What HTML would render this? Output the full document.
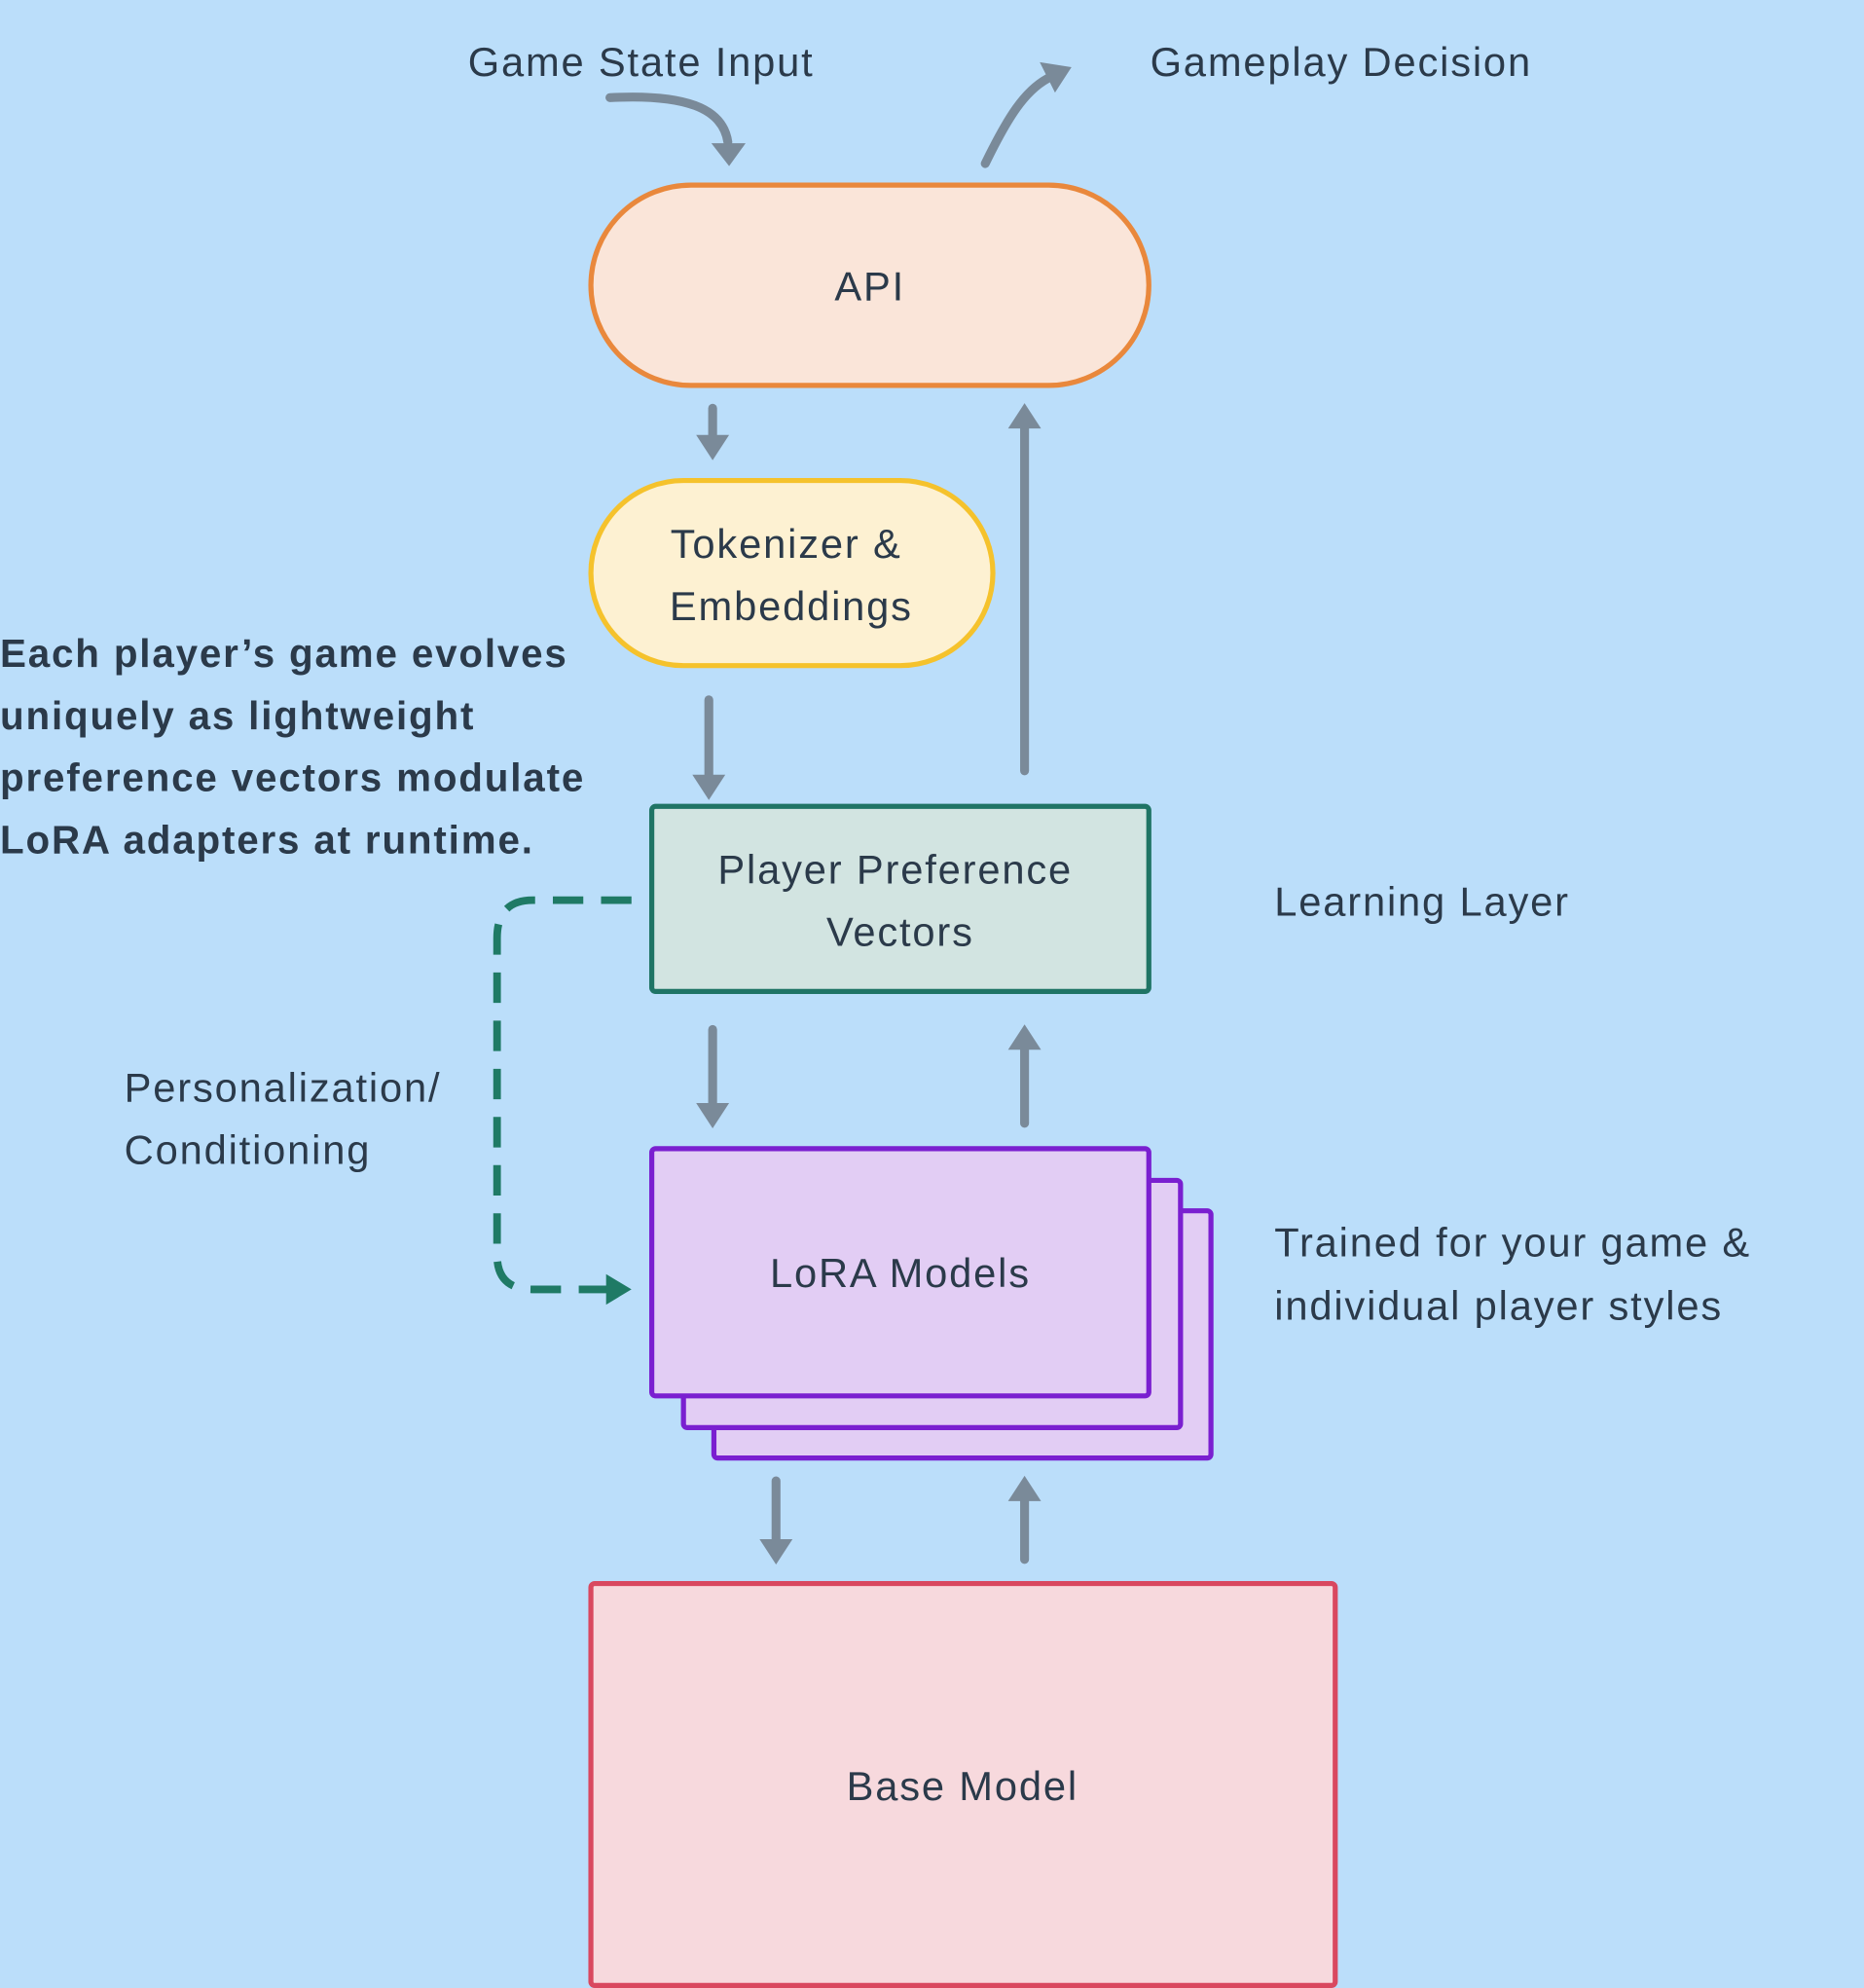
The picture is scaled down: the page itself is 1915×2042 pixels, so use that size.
<!DOCTYPE html>
<html><head><meta charset="utf-8"><style>
html,body{margin:0;padding:0;background:#bbdefa;}
svg{display:block;}
text{font-family:"Liberation Sans","DejaVu Sans",sans-serif;fill:#2b3a4a;letter-spacing:1.4px;}
</style></head><body>
<svg width="1915" height="2042" viewBox="0 0 1470 1568" preserveAspectRatio="none" xmlns="http://www.w3.org/2000/svg">
<rect width="1470" height="1568" fill="#bbdefa"/>
<g stroke="#7a8a99" stroke-width="7" fill="none" stroke-linecap="round">
<path d="M481,77 C540,74 570,85 574,112"/>
<path d="M777,129 C795,92 808,72 826,62"/>
<path d="M562,322 L562,346"/>
<path d="M559,552 L559,614"/>
<path d="M808,608 L808,336"/>
<path d="M562,812 L562,872"/>
<path d="M808,886 L808,826"/>
<path d="M612,1168 L612,1216"/>
<path d="M808,1230 L808,1182"/>
</g>
<g fill="#7a8a99">
<polygon points="561,113 588,113 575,131"/>
<polygon points="820,49 845,53 832,73"/>
<polygon points="549,343 575,343 562,363"/>
<polygon points="546,611 572,611 559,631"/>
<polygon points="795,338 821,338 808,318"/>
<polygon points="549,870 575,870 562,890"/>
<polygon points="795,828 821,828 808,808"/>
<polygon points="599,1214 625,1214 612,1234"/>
<polygon points="795,1184 821,1184 808,1164"/>
</g>
<text x="369" y="60" font-size="32">Game State Input</text>
<text x="907" y="60" font-size="32">Gameplay Decision</text>
<rect x="466" y="146" width="440" height="158" rx="79" fill="#fae5d9" stroke="#e9883c" stroke-width="4"/>
<text x="686" y="237" font-size="32" text-anchor="middle">API</text>
<rect x="466" y="379" width="317" height="146" rx="73" fill="#fdf1d2" stroke="#f5c22c" stroke-width="4"/>
<text x="620" y="440" font-size="32" text-anchor="middle">Tokenizer &amp;</text>
<text x="624" y="489" font-size="32" text-anchor="middle">Embeddings</text>
<rect x="514" y="636" width="392" height="146" rx="3" fill="#d2e4e1" stroke="#1f7465" stroke-width="4"/>
<text x="706" y="697" font-size="32" text-anchor="middle">Player Preference</text>
<text x="710" y="746" font-size="32" text-anchor="middle">Vectors</text>
<text x="1005" y="722" font-size="32">Learning Layer</text>
<g font-size="31" font-weight="bold" style="letter-spacing:1.7px">
<text x="0" y="526">Each player’s game evolves</text>
<text x="0" y="575">uniquely as lightweight</text>
<text x="0" y="624">preference vectors modulate</text>
<text x="0" y="673">LoRA adapters at runtime.</text>
</g>
<path d="M498,710 L420,710 Q392,710 392,740 L392,990 Q392,1017 420,1017 L480,1017" fill="none" stroke="#1f7a65" stroke-width="6" stroke-dasharray="24,14"/>
<polygon points="478,1005 498,1017 478,1029" fill="#1f7a65"/>
<text x="98" y="869" font-size="32">Personalization/</text>
<text x="98" y="918" font-size="32">Conditioning</text>
<rect x="563" y="955" width="392" height="195" rx="3" fill="#e2cdf4" stroke="#7a1fd0" stroke-width="4"/>
<rect x="539" y="931" width="392" height="195" rx="3" fill="#e2cdf4" stroke="#7a1fd0" stroke-width="4"/>
<rect x="514" y="906" width="392" height="195" rx="3" fill="#e2cdf4" stroke="#7a1fd0" stroke-width="4"/>
<text x="710" y="1015" font-size="32" text-anchor="middle">LoRA Models</text>
<text x="1005" y="991" font-size="32">Trained for your game &amp;</text>
<text x="1005" y="1041" font-size="32">individual player styles</text>
<rect x="466" y="1249" width="587" height="317" rx="3" fill="#f7d9dd" stroke="#d9485f" stroke-width="4"/>
<text x="759" y="1420" font-size="32" text-anchor="middle">Base Model</text>
</svg>
</body></html>
